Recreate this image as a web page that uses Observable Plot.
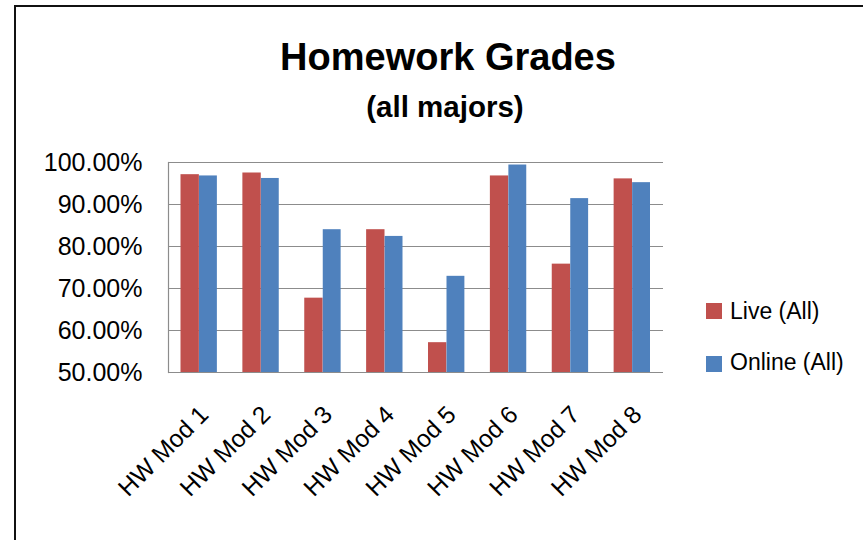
<!DOCTYPE html>
<html>
<head>
<meta charset="utf-8">
<script src="https://cdn.jsdelivr.net/npm/d3@7"></script>
<script src="https://cdn.jsdelivr.net/npm/@observablehq/plot@0.6"></script>
<style>
  html, body { margin: 0; padding: 0; background: #fff; }
  #wrap { position: relative; width: 863px; height: 540px; overflow: hidden; font-family: "Liberation Sans", Arial, sans-serif; color: #000; }
  #frame { position: absolute; left: 14px; top: 4.5px; width: 900px; height: 600px; border-left: 2px solid #111; border-top: 2px solid #111; box-sizing: border-box; }
  #title { position: absolute; left: 0; width: 896px; top: 38.3px; text-align: center; font-size: 38px; font-weight: bold; line-height: 1; }
  #subtitle { position: absolute; left: 0; width: 890px; top: 91.7px; text-align: center; font-size: 29.5px; font-weight: bold; line-height: 1; }
  #chart { position: absolute; left: 0; top: 140px; }
  .lg-sw { position: absolute; width: 16px; height: 15.5px; }
  .lg-tx { position: absolute; font-size: 23px; line-height: 1; white-space: nowrap; }
</style>
</head>
<body>
<div id="wrap">
  <div id="frame"></div>
  <div id="title">Homework Grades</div>
  <div id="subtitle">(all majors)</div>
  <div id="chart"></div>
  <div id="legend"></div>
</div>
<script>
const modules = ["HW Mod 1", "HW Mod 2", "HW Mod 3", "HW Mod 4", "HW Mod 5", "HW Mod 6", "HW Mod 7", "HW Mod 8"];
const live = [97.1, 97.5, 67.7, 84.0, 57.1, 96.8, 75.8, 96.1];
const online = [96.8, 96.2, 84.0, 82.4, 72.9, 99.4, 91.4, 95.2];
const seriesNames = ["Live (All)", "Online (All)"];
const seriesColors = ["#C0504D", "#4F81BD"];
const yTicks = [50, 60, 70, 80, 90, 100];

const rows = modules.map((m, i) => ({module: m, live: live[i], online: online[i]}));
const gridColor = "#8c8c8c";

const chart = Plot.plot({
  width: 863,
  height: 400,
  marginLeft: 168,
  marginRight: 200,
  marginTop: 22,
  marginBottom: 168,
  style: {fontFamily: "'Liberation Sans', Arial, sans-serif", fontSize: "24px", color: "#000", background: "transparent", overflow: "visible"},
  x: {domain: modules, padding: 0, round: false, label: null},
  y: {domain: [50, 100], label: null},
  marks: [
    Plot.gridY(yTicks, {stroke: gridColor, strokeOpacity: 1, strokeWidth: 1.2}),
    Plot.barY(rows, {x: "module", y1: 50, y2: "live", fill: seriesColors[0], insetLeft: 12.5, insetRight: 31}),
    Plot.barY(rows, {x: "module", y1: 50, y2: "online", fill: seriesColors[1], insetLeft: 31, insetRight: 13}),
    Plot.ruleY([50], {stroke: gridColor, strokeWidth: 1.2}),
    Plot.frame({anchor: "left", stroke: gridColor, strokeWidth: 1.2}),
    Plot.axisY({ticks: yTicks, tickFormat: d => d.toFixed(2) + "%", tickSize: 0, tickPadding: 26, fontSize: 25}),
    Plot.axisX({tickRotate: -45, tickSize: 0, tickPadding: 38, dx: 5, fontSize: 24.5})
  ]
});
document.getElementById("chart").appendChild(chart);

const legend = document.getElementById("legend");
seriesNames.forEach((name, i) => {
  const sw = document.createElement("div");
  sw.className = "lg-sw";
  sw.style.left = "706px";
  sw.style.top = (303 + i * 53) + "px";
  sw.style.background = seriesColors[i];
  legend.appendChild(sw);
  const tx = document.createElement("div");
  tx.className = "lg-tx";
  tx.style.left = "730px";
  tx.style.top = (299.5 + i * 51.5) + "px";
  tx.textContent = name;
  legend.appendChild(tx);
});
</script>
</body>
</html>
